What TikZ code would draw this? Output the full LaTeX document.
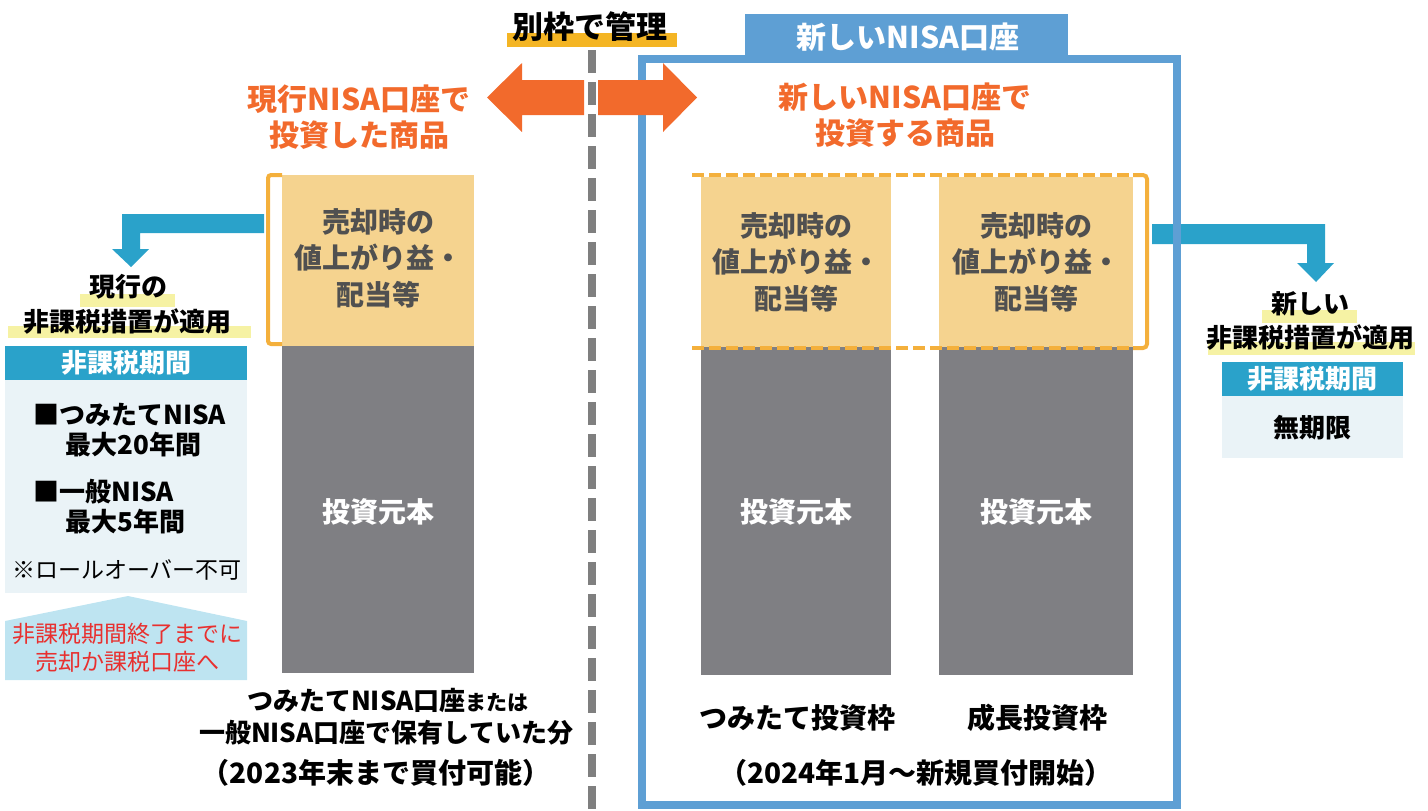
\documentclass[tikz,border=0pt]{standalone}
\usepackage{fontspec}
\setmainfont{Noto Sans CJK JP}
\usetikzlibrary{calc}
\definecolor{orangeA}{RGB}{242,106,44}
\definecolor{goldbar}{RGB}{244,181,36}
\definecolor{frameblue}{RGB}{94,159,212}
\definecolor{tanfill}{RGB}{245,211,143}
\definecolor{barGray}{RGB}{127,127,131}
\definecolor{bracketOr}{RGB}{244,176,60}
\definecolor{teal}{RGB}{42,162,202}
\definecolor{lightbox}{RGB}{234,243,247}
\definecolor{pentaBlue}{RGB}{190,228,241}
\definecolor{paleYel}{RGB}{246,242,164}
\definecolor{redTxt}{RGB}{232,48,47}
\definecolor{darkTxt}{RGB}{80,80,80}
\definecolor{dashGray}{RGB}{127,127,127}
\tikzset{
  tx/.style={inner sep=0pt, align=center, text=black},
  big/.style={font=\bfseries\fontsize{14}{18.25}\selectfont},
  mid/.style={font=\bfseries\fontsize{13}{16}\selectfont},
  small/.style={font=\fontsize{11.5}{14}\selectfont},
  orhead/.style={tx, font=\bfseries\fontsize{15}{18}\selectfont, text=orangeA},
  tantext/.style={tx, big, text=darkTxt},
  graytext/.style={tx, big, text=white},
  hdr/.style={tx, mid, text=white},
  bracketline/.style={draw=bracketOr, line width=2pt},
}
\begin{document}
\begin{tikzpicture}[x=0.5pt,y=-0.5pt]
\useasboundingbox (0,0) rectangle (1428,810);
% title
\fill[goldbar] (507,33) rectangle (677,47);
\node[tx, font=\bfseries\fontsize{15.5}{18}\selectfont] (title) at (590,27) {別枠で管理};
% dashed divider
\draw[dashGray, line width=4pt, dash pattern=on 11.5pt off 4.5pt] (592,50) -- (592,810);

% teal arrows (under frame)
\fill[teal] (264,214) -- (122,214) -- (122,249) -- (112,249) -- (131,267) -- (149,249) -- (140,249) -- (140,233) -- (264,233) -- cycle;
\fill[teal] (1152,224) -- (1325,224) -- (1325,263) -- (1334,263) -- (1316,282) -- (1297,263) -- (1307,263) -- (1307,244) -- (1152,244) -- cycle;

% blue frame and tab
\draw[frameblue, line width=3.75pt] (642,59) rectangle (1177,805);
\fill[frameblue] (745,14) rectangle (1068,57);
\node[tx, font=\bfseries\fontsize{15}{18}\selectfont, text=white] (tab) at (908,37) {新しいNISA口座};

% orange double arrow
\fill[orangeA] (584,80) -- (522,80) -- (522,63) -- (487,97.5) -- (522,132) -- (522,115) -- (584,115) -- cycle;
\fill[orangeA] (598,80) -- (663,80) -- (663,63) -- (697,97.5) -- (663,132) -- (663,115) -- (598,115) -- cycle;

% orange headings
\node[orhead] (lh) at (359,117) {現行NISA口座で\\投資した商品};
\node[orhead] (rh) at (905,115) {新しいNISA口座で\\投資する商品};

% left column
\fill[tanfill] (282,175) rectangle (474,346);
\fill[barGray] (282,346) rectangle (474,673);
\node[tantext] (ltan) at (378,258) {売却時の\\値上がり益・\\配当等};
\node[graytext] (lgray) at (378,512) {投資元本};
\draw[bracketline, rounded corners=1.5pt] (282,175) -- (268,175) -- (268,344) -- (282,344);

% middle column
\fill[tanfill] (701,177) rectangle (891,347);
\fill[barGray] (701,347) rectangle (891,675);
\node[tantext] (mtan) at (796,262) {売却時の\\値上がり益・\\配当等};
\node[graytext] (mgray) at (796,512) {投資元本};
% right column
\fill[tanfill] (939,177) rectangle (1133,347);
\fill[barGray] (939,347) rectangle (1133,675);
\node[tantext] (rtan) at (1036,262) {売却時の\\値上がり益・\\配当等};
\node[graytext] (rgray) at (1036,512) {投資元本};
% dashed bracket
\draw[bracketline, dash pattern=on 6pt off 2.5pt] (692,175) -- (1133,175);
\draw[bracketline, dash pattern=on 6pt off 2.5pt] (692,348) -- (1133,348);
\draw[bracketline, rounded corners=2pt] (1133,175) -- (1147,175) -- (1147,348) -- (1133,348);

\node[tx, big] (tsumi) at (797,718) {つみたて投資枠};
\node[tx, big] (seicho) at (1037,718) {成長投資枠};
\node[tx, big] (start) at (916,773) {（2024年1月～新規買付開始）};

% bottom-left texts
\node[tx, font=\bfseries\fontsize{13}{16}\selectfont] (bl1) at (388,700) {つみたてNISA口座{\fontsize{10.5}{12}\selectfont または}};
\node[tx, font=\bfseries\fontsize{13}{16}\selectfont] (bl2) at (386,733) {一般NISA口座で保有していた分};
\node[tx, big] (bl3) at (376,773) {（2023年末まで買付可能）};

% left panel
\fill[paleYel] (80,294) rectangle (175,307);
\fill[paleYel] (8,326) rectangle (251,338);
\node[tx, mid] (lapp1) at (128,287) {現行の};
\node[tx, mid] (lapp2) at (128,321) {非課税措置が適用};
\fill[teal] (5,346) rectangle (247,380);
\node[hdr] (lhdr) at (126,363) {非課税期間};
\fill[lightbox] (5,380) rectangle (247,593);
\node[tx, mid, anchor=west] (li1) at (33,415) {■つみたてNISA};
\node[tx, mid, anchor=west] (li2) at (65,445) {最大20年間};
\node[tx, mid, anchor=west] (li3) at (33,492) {■一般NISA};
\node[tx, mid, anchor=west] (li4) at (65,522) {最大5年間};
\node[tx, small] (li5) at (127,570) {※ロールオーバー不可};
\fill[pentaBlue] (5,621) -- (128,596) -- (247,621) -- (247,680) -- (5,680) -- cycle;
\node[tx, small, text=redTxt] (warn) at (127,648) {非課税期間終了までに\\売却か課税口座へ};

% right panel
\fill[paleYel] (1262,310) rectangle (1357,323);
\fill[paleYel] (1208,342) rectangle (1415,355);
\node[tx, mid] (rapp1) at (1310,304) {新しい};
\node[tx, mid] (rapp2) at (1310,337) {非課税措置が適用};
\fill[teal] (1222,362) rectangle (1403,396);
\node[hdr] (rhdr) at (1312,379) {非課税期間};
\fill[lightbox] (1222,396) rectangle (1403,458);
\node[tx, mid] (rinf) at (1312,428) {無期限};
\end{tikzpicture}
\end{document}
